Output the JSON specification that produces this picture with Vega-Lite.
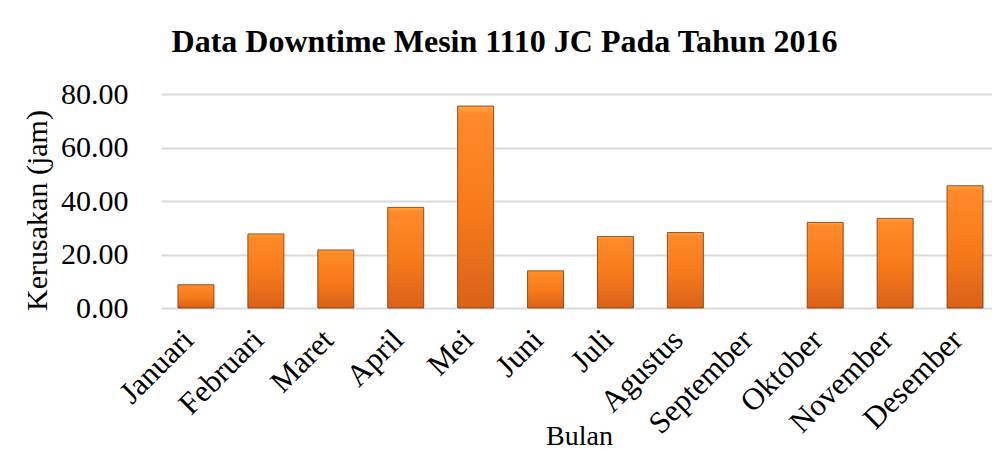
{
  "$schema": "https://vega.github.io/schema/vega-lite/v6.json",
  "autosize": "none",
  "width": 831,
  "height": 214,
  "padding": {"left": 161, "top": 94, "right": 0, "bottom": 143},
  "background": "white",
  "title": {
    "text": "Data Downtime Mesin 1110 JC Pada Tahun 2016",
    "font": "Liberation Serif",
    "fontSize": 32,
    "fontWeight": "bold",
    "color": "black",
    "anchor": "middle",
    "baseline": "alphabetic",
    "offset": -5,
    "dx": -72
  },
  "data": {
    "values": [
      {"Bulan": "Januari", "Kerusakan": 8.7},
      {"Bulan": "Februari", "Kerusakan": 27.7},
      {"Bulan": "Maret", "Kerusakan": 21.7},
      {"Bulan": "April", "Kerusakan": 37.6},
      {"Bulan": "Mei", "Kerusakan": 75.5},
      {"Bulan": "Juni", "Kerusakan": 13.9},
      {"Bulan": "Juli", "Kerusakan": 26.7},
      {"Bulan": "Agustus", "Kerusakan": 28.2},
      {"Bulan": "September", "Kerusakan": 0},
      {"Bulan": "Oktober", "Kerusakan": 32.0},
      {"Bulan": "November", "Kerusakan": 33.5},
      {"Bulan": "Desember", "Kerusakan": 45.7}
    ]
  },
  "mark": {
    "type": "bar",
    "color": {
      "gradient": "linear",
      "x1": 0, "y1": 0, "x2": 0, "y2": 1,
      "stops": [
        {"offset": 0, "color": "#FFA545"},
        {"offset": 0.04, "color": "#FF8A2A"},
        {"offset": 0.5, "color": "#F87B1A"},
        {"offset": 1, "color": "#D9621A"}
      ]
    },
    "stroke": "#7A3405",
    "strokeWidth": 1
  },
  "encoding": {
    "strokeOpacity": {
      "condition": {"test": "datum.Kerusakan > 0", "value": 0.8},
      "value": 0
    },
    "x": {
      "field": "Bulan",
      "type": "nominal",
      "sort": null,
      "scale": {"range": [0, 839], "paddingInner": 0.485, "paddingOuter": 0.2425},
      "axis": {
        "title": "Bulan",
        "titleFont": "Liberation Serif",
        "titleFontSize": 28,
        "titleFontWeight": "normal",
        "titleColor": "black",
        "titleBaseline": "alphabetic",
        "titleY": 136,
        "titleX": 418,
        "labelFont": "Liberation Serif",
        "labelFontSize": 31,
        "labelColor": "black",
        "labelAngle": -45,
        "labelAlign": "right",
        "labelBaseline": "middle",
        "labelPadding": 27,
        "labelOffset": -7,
        "ticks": false,
        "domain": false,
        "grid": false
      }
    },
    "y": {
      "field": "Kerusakan",
      "type": "quantitative",
      "scale": {"domain": [0, 80], "nice": false},
      "axis": {
        "title": "Kerusakan (jam)",
        "titleFont": "Liberation Serif",
        "titleFontSize": 30,
        "titleFontWeight": "normal",
        "titleColor": "black",
        "titleAngle": -90,
        "titleAlign": "center",
        "titleBaseline": "middle",
        "titleX": -124,
        "titleY": 116,
        "values": [0, 20, 40, 60, 80],
        "format": ".2f",
        "labelFont": "Liberation Serif",
        "labelFontSize": 30,
        "labelColor": "black",
        "labelPadding": 33,
        "ticks": false,
        "domain": false,
        "grid": true,
        "gridColor": "#D9D9D9",
        "gridWidth": 2
      }
    }
  },
  "config": {"view": {"stroke": null}}
}
